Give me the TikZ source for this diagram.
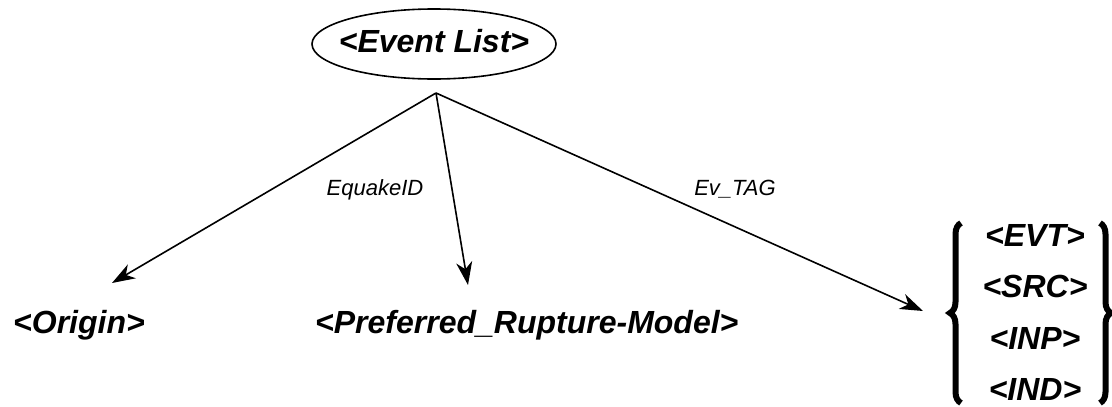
\documentclass[tikz,border=0pt]{standalone}
\usepackage{fontspec}
\setmainfont{Liberation Sans}
\usetikzlibrary{arrows.meta,decorations.pathreplacing}

\tikzset{
    tag/.style={font=\fontsize{32}{38}\selectfont\bfseries\itshape,inner sep=0pt,anchor=base},
    key/.style={font=\fontsize{22}{26}\selectfont\itshape,inner sep=0pt,anchor=base},
    link/.style={line width=1.6pt,-{Stealth[length=23pt,width=16pt,inset=7pt]}},
    curly/.style={decorate,decoration={brace,amplitude=11pt},line width=6pt}
}

\begin{document}
\begin{tikzpicture}[x=1pt,y=-1pt]
    \useasboundingbox (0,0) rectangle (1112,407);
    % root
    \node[tag] (events) at (434,52) {<Event List>};
    \draw[line width=1.6pt] (434,44) ellipse [x radius=122,y radius=35];
    \coordinate (fork) at (436,93);
    % children
    \node[tag,anchor=base west] (origin) at (13,333) {<Origin>};
    \node[tag,anchor=base west] (rupture) at (315,333) {<Preferred\_Rupture-Model>};
    \node[tag] (evt) at (1035,246) {<EVT>};
    \node[tag] (src) at (1035,297.5) {<SRC>};
    \node[tag] (inp) at (1035,349) {<INP>};
    \node[tag] (ind) at (1035,400.5) {<IND>};
    \draw[curly] (961,403) -- (961,223);
    \draw[curly] (1100,223) -- (1100,403);
    % arrows
    \coordinate (toorigin) at (112,283);
    \coordinate (torupture) at (468,285);
    \coordinate (tolist) at (923,311);
    \draw[link] (fork) -- (toorigin);
    \draw[link] (fork) -- (torupture);
    \draw[link] (fork) -- (tolist);
    \node[key] (qid) at (375,195) {EquakeID};
    \node[key] (evtag) at (735,195) {Ev\_TAG};
\end{tikzpicture}
\end{document}
